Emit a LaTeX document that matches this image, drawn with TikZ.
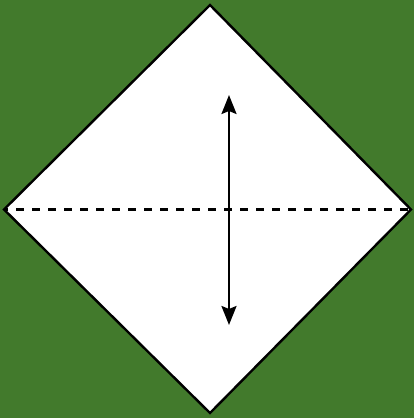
\documentclass[tikz,border=0pt]{standalone}
\usetikzlibrary{arrows.meta}
\definecolor{bggreen}{RGB}{66,122,44}
\tikzset{
  paper/.style={draw=black, fill=white, line width=2.4pt, line join=miter},
  foldline/.style={draw=black, line width=2.2pt, dash pattern=on 8pt off 8pt, dash phase=4pt},
  movearrow/.style={draw=black, line width=2.2pt, {Stealth[length=19pt,width=15pt,inset=3pt]}-{Stealth[length=19pt,width=15pt,inset=3pt]}}
}
\begin{document}
\begin{tikzpicture}[x=1pt,y=-1pt]
\fill[bggreen] (0,0) rectangle (414,418);
\useasboundingbox (0,0) rectangle (414,418);
\coordinate (T) at (210,5);
\coordinate (L) at (4,209.5);
\coordinate (R) at (411,209.5);
\coordinate (B) at (210,413);
\path[paper] (T) -- (R) -- (B) -- (L) -- cycle;
\path[foldline] (L) -- (R);
\coordinate (A1) at (229,95);
\coordinate (A2) at (229,325);
\path[movearrow] (A1) -- (A2);
\end{tikzpicture}
\end{document}
